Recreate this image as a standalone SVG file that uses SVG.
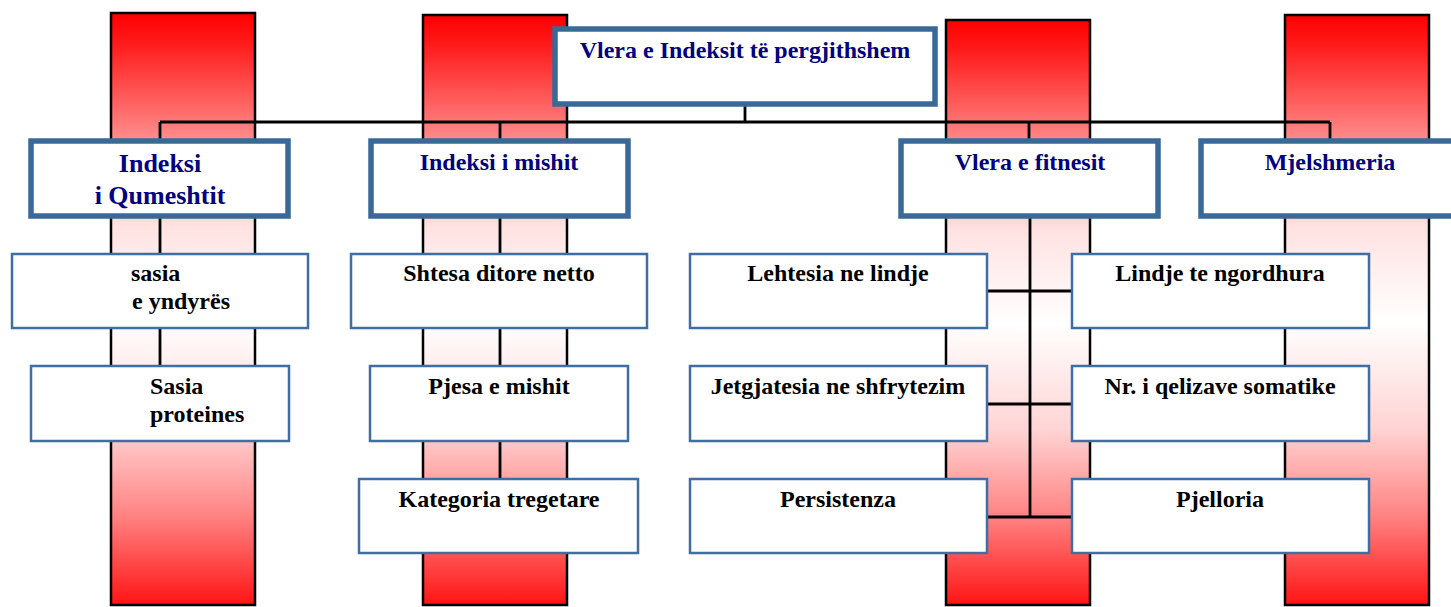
<svg xmlns="http://www.w3.org/2000/svg" width="1451" height="607" viewBox="0 0 1451 607">
<defs>
<linearGradient id="pg" x1="0" y1="0" x2="0" y2="1">
<stop offset="0" stop-color="#FF0000"/>
<stop offset="0.05" stop-color="#FF1A1A"/>
<stop offset="0.2" stop-color="#FF8484"/>
<stop offset="0.36" stop-color="#FFE2E2"/>
<stop offset="0.52" stop-color="#FFFFFF"/>
<stop offset="0.7" stop-color="#FFD4D4"/>
<stop offset="0.85" stop-color="#FF8282"/>
<stop offset="1" stop-color="#FF1414"/>
</linearGradient>
<style>
.pillar{fill:url(#pg);stroke:#000;stroke-width:2.5}
.l1{fill:#fff;stroke:#3A6898;stroke-width:5.5}
.l2{fill:#fff;stroke:#3F6EA4;stroke-width:2.5}
text{font-family:'Liberation Serif','DejaVu Serif',serif;font-weight:bold;font-size:24px}
.t1{fill:#000080;text-anchor:middle}
.t2{fill:#000;text-anchor:middle}
.tl{text-anchor:start}
.conn{stroke:#000;stroke-width:2.8;fill:none}
</style>
</defs>
<g id="pillars">
<rect class="pillar" x="111" y="13" width="144" height="592"/>
<rect class="pillar" x="423" y="15" width="144" height="590"/>
<rect class="pillar" x="946" y="20" width="144" height="585"/>
<rect class="pillar" x="1285" y="15" width="144" height="590"/>
</g>
<g id="connectors">
<path class="conn" d="M745 103V122M160 122H1330M160 122V140M500 122V140M1029 122V140M1330 122V140"/>
<path class="conn" d="M160 216V366"/>
<path class="conn" d="M500 216V479"/>
<path class="conn" d="M1030 216V517M988 291H1072M988 404H1072M988 517H1072"/>
</g>
<g id="n-root"><rect class="l1" x="555" y="29" width="380" height="75"/><text class="t1" x="745" y="58" font-family="Liberation Serif">Vlera e Indeksit të pergjithshem</text></g>
<g id="n-qumesht"><rect class="l1" x="31" y="141" width="257" height="75"/><text class="t1" x="160" y="172" style="font-size:26px">Indeksi</text><text class="t1" x="160" y="204" style="font-size:26px">i Qumeshtit</text></g>
<g id="n-mish"><rect class="l1" x="371" y="141" width="257" height="75"/><text class="t1" x="499" y="170">Indeksi i mishit</text></g>
<g id="n-fitnes"><rect class="l1" x="901" y="141" width="257" height="75"/><text class="t1" x="1030" y="170">Vlera e fitnesit</text></g>
<g id="n-mjel"><rect class="l1" x="1201" y="141" width="262" height="75"/><text class="t1" x="1330" y="170">Mjelshmeria</text></g>
<g id="n-sasia"><rect class="l2" x="12" y="254" width="296" height="74"/><text class="t2 tl" x="131" y="281">sasia</text><text class="t2 tl" x="132" y="309">e yndyrës</text></g>
<g id="n-proteina"><rect class="l2" x="31" y="366" width="258" height="75"/><text class="t2 tl" x="150" y="394">Sasia</text><text class="t2 tl" x="150" y="422">proteines</text></g>
<g id="n-shtesa"><rect class="l2" x="351" y="254" width="296" height="74"/><text class="t2" x="499" y="281">Shtesa ditore netto</text></g>
<g id="n-pjesa"><rect class="l2" x="370" y="366" width="258" height="75"/><text class="t2" x="499" y="394">Pjesa e mishit</text></g>
<g id="n-kategoria"><rect class="l2" x="359" y="479" width="279" height="74"/><text class="t2" x="499" y="507">Kategoria tregetare</text></g>
<g id="n-lehtesia"><rect class="l2" x="690" y="254" width="297" height="74"/><text class="t2" x="838" y="281">Lehtesia ne lindje</text></g>
<g id="n-jetgjatesia"><rect class="l2" x="690" y="366" width="297" height="75"/><text class="t2" x="838" y="394">Jetgjatesia ne shfrytezim</text></g>
<g id="n-persistenza"><rect class="l2" x="690" y="479" width="297" height="74"/><text class="t2" x="838" y="507">Persistenza</text></g>
<g id="n-lindje"><rect class="l2" x="1072" y="254" width="297" height="74"/><text class="t2" x="1220" y="281">Lindje te ngordhura</text></g>
<g id="n-qelizave"><rect class="l2" x="1072" y="366" width="297" height="75"/><text class="t2" x="1220" y="394">Nr. i qelizave somatike</text></g>
<g id="n-pjelloria"><rect class="l2" x="1072" y="479" width="297" height="74"/><text class="t2" x="1220" y="507">Pjelloria</text></g>
</svg>
